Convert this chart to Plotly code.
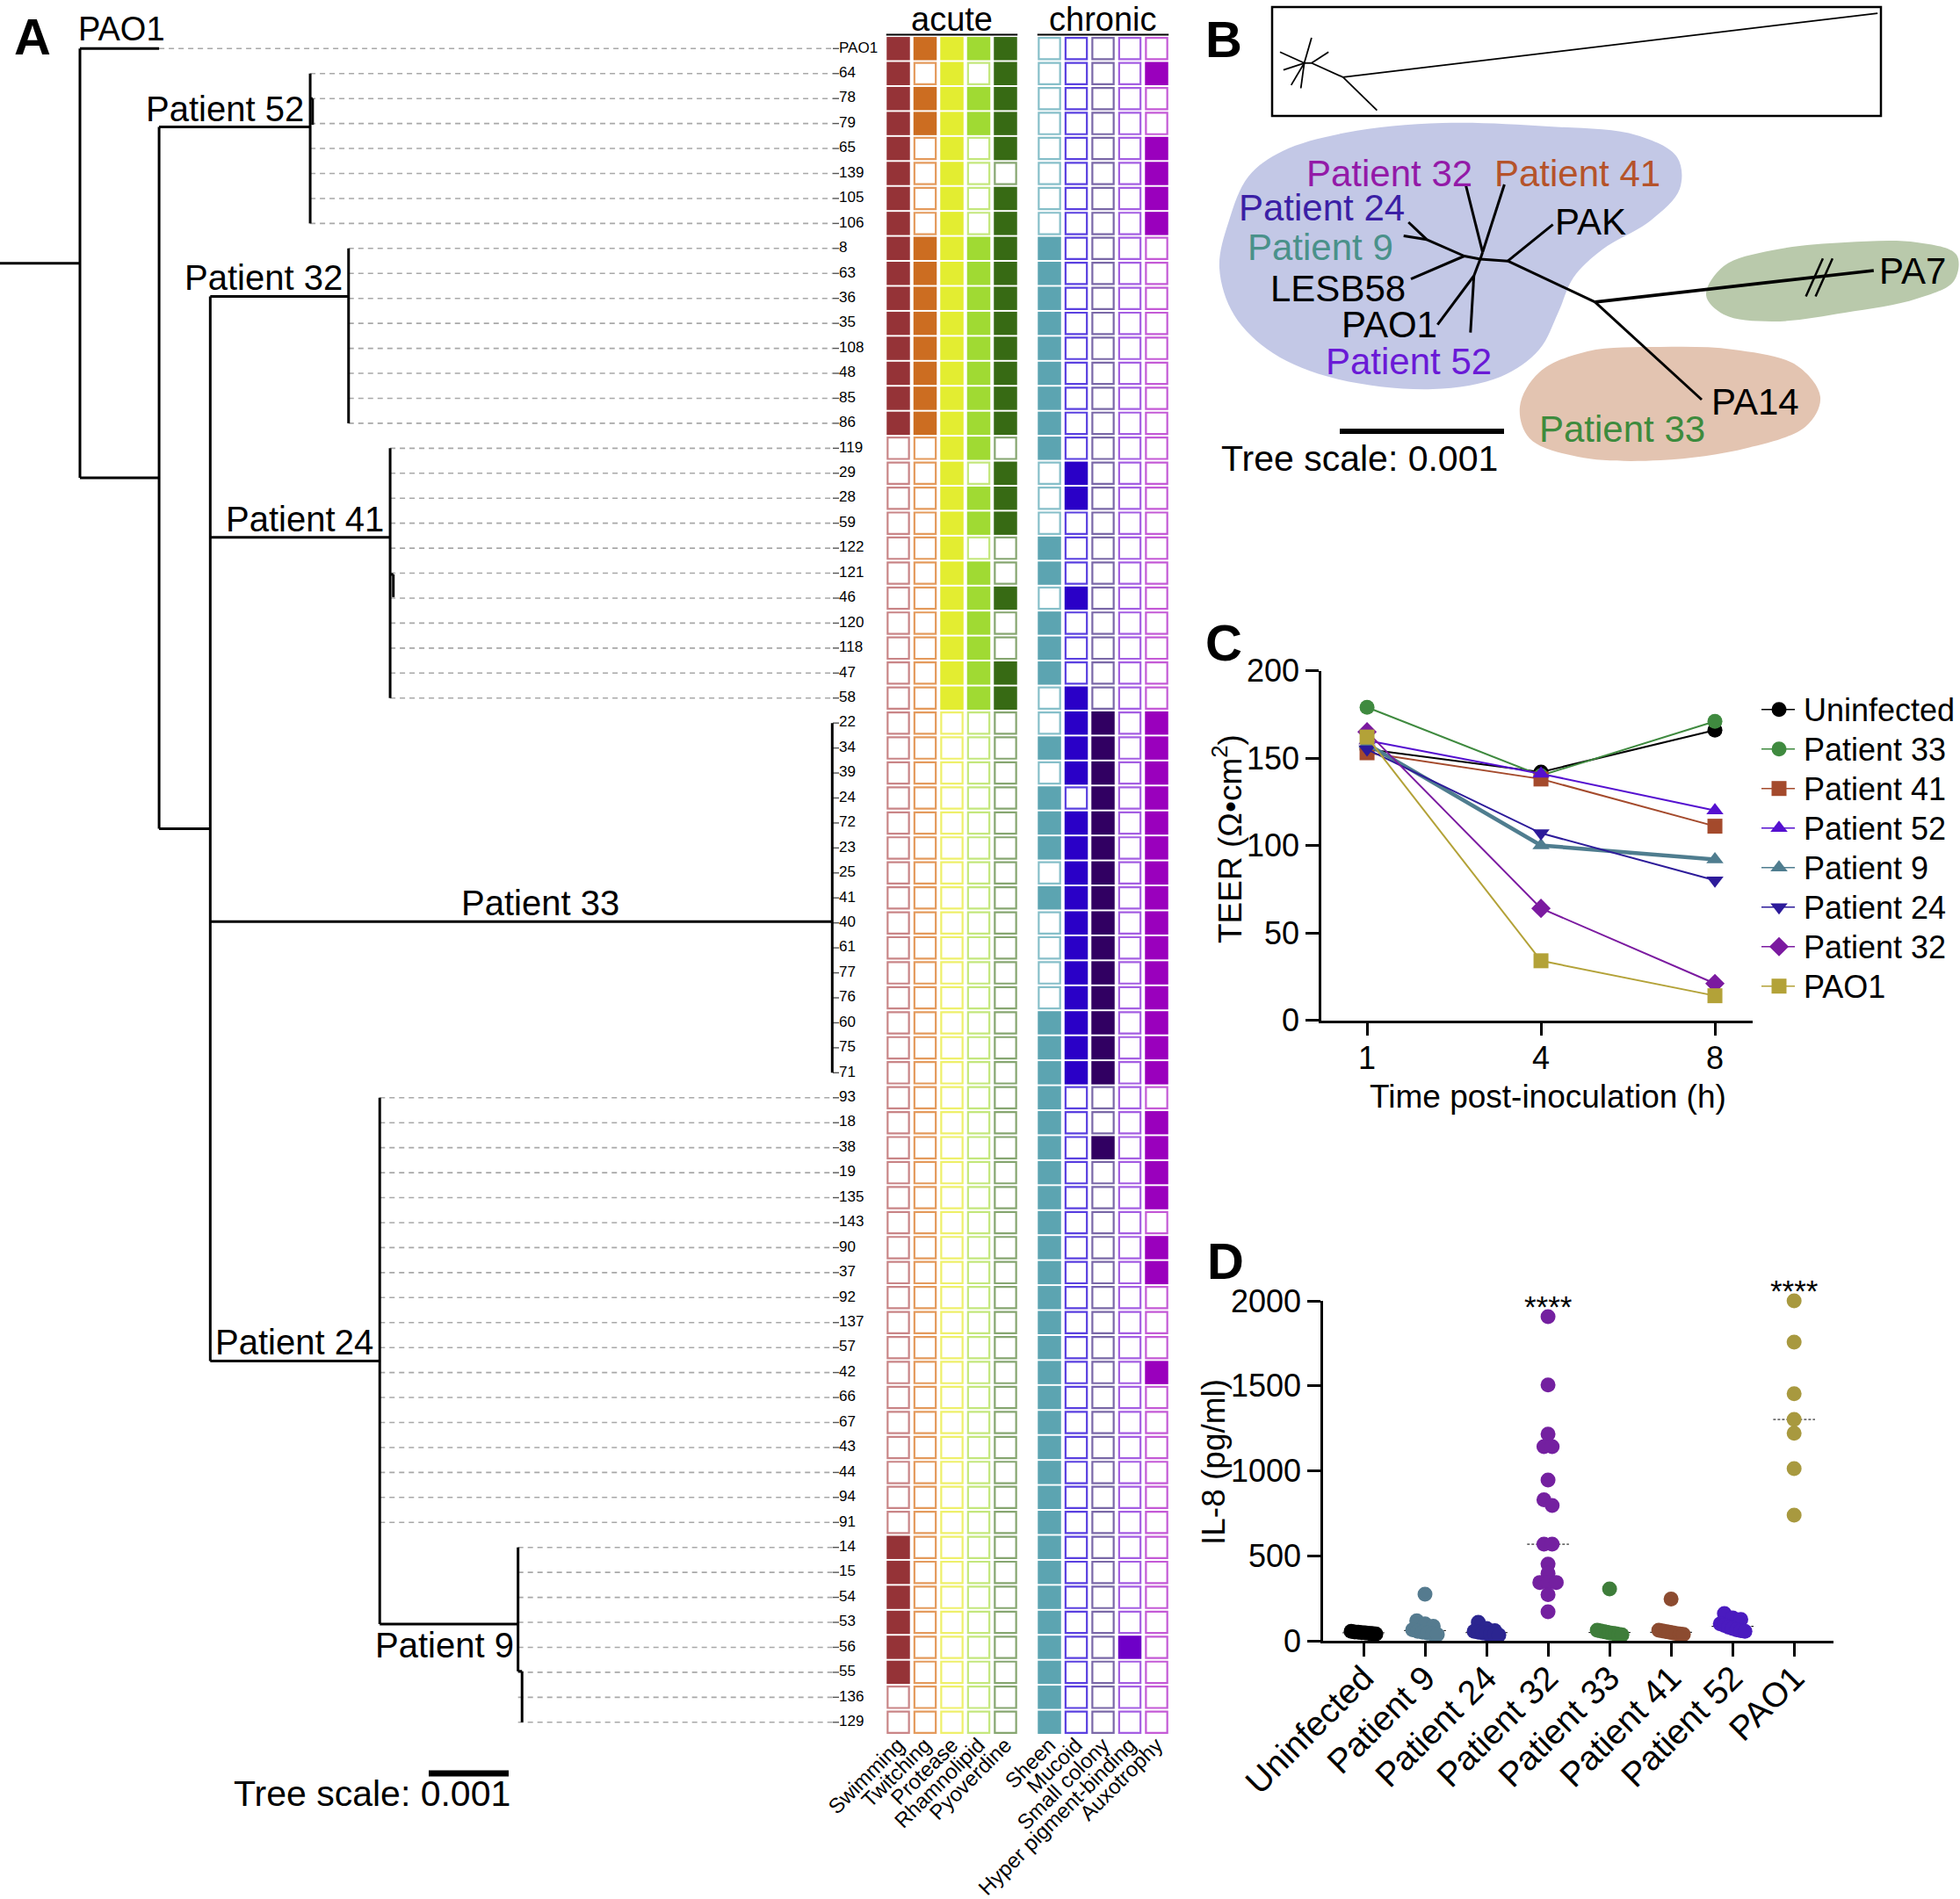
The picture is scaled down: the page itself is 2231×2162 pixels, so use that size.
import numpy as np
import plotly.graph_objects as go

W, H = 2231, 2162
FONT = "Liberation Sans, Arial, Helvetica, sans-serif"


def px_x(x):
    return x / W


def px_y(y):
    return 1 - y / H

# ======================= DATA =======================
# ---- Panel A: leaves (top to bottom) ----
leaf_names = ["PAO1", "64", "78", "79", "65", "139", "105", "106",
              "8", "63", "36", "35", "108", "48", "85", "86",
              "119", "29", "28", "59", "122", "121", "46", "120", "118", "47", "58",
              "22", "34", "39", "24", "72", "23", "25", "41", "40", "61", "77", "76", "60", "75", "71",
              "93", "18", "38", "19", "135", "143", "90", "37", "92", "137", "57", "42", "66", "67",
              "43", "44", "94", "91",
              "14", "15", "54", "53", "56", "55", "136", "129"]

acute_traits = ["Swimming", "Twitching", "Protease", "Rhamnolipid", "Pyoverdine"]
chronic_traits = ["Sheen", "Mucoid", "Small colony", "Hyper pigment-binding", "Auxotrophy"]

acute_profile = ["11111", "10101", "11111", "11111", "10101", "10100", "10101", "10101",
                 "11111", "11111", "11111", "11111", "11111", "11111", "11111", "11111",
                 "00110", "00101", "00111", "00111", "00100", "00110", "00111", "00110", "00110", "00111", "00111",
                 "00000", "00000", "00000", "00000", "00000", "00000", "00000", "00000", "00000", "00000",
                 "00000", "00000", "00000", "00000", "00000",
                 "00000", "00000", "00000", "00000", "00000", "00000", "00000", "00000", "00000", "00000",
                 "00000", "00000", "00000", "00000", "00000", "00000", "00000", "00000",
                 "10000", "10000", "10000", "10000", "10000", "10000", "00000", "00000"]

chronic_profile = ["00000", "00001", "00000", "00000", "00001", "00001", "00001", "00001",
                   "10000", "10000", "10000", "10000", "10000", "10000", "10000", "10000",
                   "10000", "01000", "01000", "00000", "10000", "10000", "01000", "10000", "10000", "10000", "01000",
                   "01101", "11101", "01101", "10101", "11101", "11101", "01101", "11101", "01101", "01101",
                   "01101", "01101", "11101", "11101", "11101",
                   "10000", "10001", "10101", "10001", "10001", "10000", "10001", "10001", "10000", "10000",
                   "10000", "10001", "10000", "10000", "10000", "10000", "10000", "10000",
                   "10000", "10000", "10000", "10000", "10010", "10000", "10000", "10000"]

acute_fill = ["#953337", "#cc6d21", "#e3ed31", "#a0da33", "#376a14"]
acute_edge = ["#c98587", "#e49a5c", "#eef06a", "#c4e77c", "#86a670"]
chronic_fill = ["#5ca4b1", "#2a00c7", "#310062", "#6e00c8", "#9a00bd"]
chronic_edge = ["#86bfc9", "#5a40e0", "#7a68a8", "#a45ee2", "#c45ad6"]

# clades of the rooted tree (rows are leaf indices)
clade_names = ["Patient 52", "Patient 32", "Patient 41", "Patient 33", "Patient 24", "Patient 9"]
clade_first = [1, 8, 16, 27, 42, 60]
clade_last = [7, 15, 26, 41, 59, 67]
clade_depth = [0.00388, 0.00436, 0.00488, 0.01041, 0.00475, 0.00648]
clade_row = [3.14, 9.92, 19.57, 34.95, None, 63.07]
root_depth = 0.00100
pao1_depth = 0.00199
a1_depth = 0.00199
a2_depth = 0.00263
minor_parent = [0, 2, 5]
minor_depth = [0.00391, 0.00492, 0.00653]
minor_top = [2.0, 21.05, 64.96]
minor_bottom = [3.05, 21.96, 67.0]
tree_scale = 0.001

# ---- Panel B: unrooted tree ----
b_nodes = ["H1", "Hc", "N24", "Nb", "Hlow", "H2", "H3", "P32", "P41", "P24", "P9",
           "LESB58", "PAO1", "P52", "PAK", "PA7", "PA14"]
b_node_x = [318.9, 321.6, 300.7, 258.2, 311.7, 350.3, 449.6, 302.3, 346.4, 237.2, 231.7,
            240.0, 270.3, 307.8, 401.6, 766.8, 571.0]
b_node_y = [295.0, 287.2, 291.5, 272.8, 314.0, 297.2, 343.9, 210.0, 210.0, 253.0, 268.5,
            317.7, 369.7, 378.7, 255.6, 308.0, 455.0]
b_edges = [("H1", "Hc"), ("Hc", "P32"), ("Hc", "P41"), ("H1", "N24"), ("N24", "LESB58"),
           ("N24", "Nb"), ("Nb", "P24"), ("Nb", "P9"), ("H1", "Hlow"), ("Hlow", "PAO1"),
           ("Hlow", "P52"), ("H1", "H2"), ("H2", "PAK"), ("H2", "H3"), ("H3", "PA14")]
b_long_edge = ("H3", "PA7")
b_labels = ["Patient 32", "Patient 41", "Patient 24", "Patient 9", "LESB58", "PAO1",
            "Patient 52", "PAK", "PA7", "PA14", "Patient 33"]
b_label_x = [215, 429, 138, 137, 157, 215, 237, 444, 811, 632, 480]
b_label_y = [194, 194, 233, 278, 325, 366, 408, 249, 305, 454, 485]
b_label_color = ["#931aa8", "#b5532a", "#3b1fa5", "#4a918a", "#000000", "#000000",
                 "#6a1ad6", "#000000", "#000000", "#000000", "#3d8b3d"]
blob_blue_x = [55, 33, 22, 39, 83, 154, 265, 342, 386, 408, 425, 458, 513, 546, 543, 497, 397, 276, 166, 94]
blob_blue_y = [201, 251, 305, 359, 402, 431, 443, 429, 398, 355, 316, 284, 251, 215, 179, 154, 144, 140, 151, 172]
blob_green_x = [576, 596, 651, 734, 816, 861, 858, 816, 734, 651, 596]
blob_green_y = [336, 303, 285, 276, 276, 290, 320, 340, 356, 366, 358]
blob_peach_x = [364, 386, 441, 524, 607, 679, 706, 690, 623, 524, 430, 375]
blob_peach_y = [463, 424, 400, 395, 398, 416, 452, 485, 510, 524, 520, 499]
mini_x0 = [118.6, 118.6, 118.6, 118.6, 118.6, 126.9, 118.6, 126.9, 162.7, 162.7]
mini_y0 = [71.8, 71.8, 71.8, 71.8, 71.8, 71.8, 71.8, 71.8, 87.9, 87.9]
mini_x1 = [126.9, 114.7, 91.0, 94.9, 103.7, 146.2, 126.9, 162.7, 771.2, 201.4]
mini_y1 = [43.1, 100.5, 59.2, 79.7, 96.9, 59.2, 71.8, 87.9, 15.1, 125.6]

# ---- Panel C: TEER ----
teer_time = ["1", "4", "8"]
teer_groups = ["Uninfected", "Patient 33", "Patient 41", "Patient 52", "Patient 9",
               "Patient 24", "Patient 32", "PAO1"]
teer_uninfected = [155, 142, 166]
teer_p33 = [179, 140, 171]
teer_p41 = [153, 138, 111]
teer_p52 = [160, 141, 120]
teer_p9 = [158, 100, 92]
teer_p24 = [155, 107, 80]
teer_p32 = [165, 64, 21]
teer_pao1 = [162, 34, 14]
teer_colors = ["#000000", "#3f8a3f", "#a44a2c", "#5510d0", "#4f7d8f", "#2d1b9a", "#7b1aa0", "#b3a238"]
teer_symbols = ["circle", "circle", "square", "triangle-up", "triangle-up", "triangle-down",
                "diamond", "square"]
teer_widths = [2, 2, 2, 2, 4.5, 2, 2, 2]

# ---- Panel D: IL-8 ----
il8_groups = ["Uninfected", "Patient 9", "Patient 24", "Patient 32", "Patient 33",
              "Patient 41", "Patient 52", "PAO1"]
il8_uninfected = [55, 52, 50, 48, 46, 44, 42, 40]
il8_p9 = [274, 118, 100, 85, 65, 55, 50, 45, 40, 36]
il8_p24 = [108, 72, 60, 55, 50, 46, 43, 40, 37, 34]
il8_p32 = [1907, 1505, 1216, 1142, 1142, 946, 829, 796, 568, 568, 451, 397, 343, 343, 343, 271, 170]
il8_p33 = [305, 62, 58, 54, 50, 47, 44, 41, 38, 35]
il8_p41 = [245, 62, 58, 54, 50, 46, 43, 40, 37]
il8_p52 = [160, 135, 125, 100, 90, 80, 72, 65, 60, 55]
il8_pao1 = [2000, 1757, 1454, 1302, 1221, 1013, 739]
il8_colors = ["#000000", "#557b8f", "#2b2590", "#7420a0", "#3e7d3a", "#8c4b30", "#4a1bbf", "#a8993f"]
il8_signif = ["", "", "", "****", "", "", "", "****"]

# ======================= FIGURE =======================
fig = go.Figure()
annotations = []
shapes = []

# ---------------- Panel A: tree ----------------
ROW0_PX, ROW_PX = 55.3, 28.44
UNIT_PX = 91 / tree_scale            # pixels per substitution/site
TREE_RIGHT_PX = 1000
node_row = list(clade_row)
node_row[4] = (clade_first[4] + node_row[5]) / 2
a2_row = (node_row[1] + node_row[4]) / 2
a1_row = (node_row[0] + a2_row) / 2
root_row = (0 + a1_row) / 2

sx, sy = [], []


def seg(x0, y0, x1, y1, X=sx, Y=sy):
    X.extend([x0, x1, None])
    Y.extend([y0, y1, None])


seg(0, root_row, root_depth, root_row)
seg(root_depth, 0, root_depth, a1_row)
seg(root_depth, 0, pao1_depth, 0)
seg(root_depth, a1_row, a1_depth, a1_row)
seg(a1_depth, node_row[0], a1_depth, a2_row)
seg(a1_depth, node_row[0], clade_depth[0], node_row[0])
seg(a1_depth, a2_row, a2_depth, a2_row)
seg(a2_depth, node_row[1], a2_depth, node_row[4])
for k in [1, 2, 3, 4]:
    seg(a2_depth, node_row[k], clade_depth[k], node_row[k])
seg(clade_depth[4], node_row[5], clade_depth[5], node_row[5])
for k in range(6):
    bottom = node_row[5] if k == 4 else clade_last[k]
    top = clade_first[k]
    if k == 5:
        bottom = minor_top[2]
    seg(clade_depth[k], top, clade_depth[k], bottom)
for p, d, t, b in zip(minor_parent, minor_depth, minor_top, minor_bottom):
    seg(clade_depth[p], t, d, t)
    seg(d, t, d, b)

leaf_tip = [pao1_depth] + [0] * (len(leaf_names) - 1)
for k in range(6):
    for r in range(clade_first[k], clade_last[k] + 1):
        leaf_tip[r] = clade_depth[k]

DASH_END = 948 / UNIT_PX
LABEL_X = 955 / UNIT_PX
dx, dy, tx, ty = [], [], [], []
for r, tip in enumerate(leaf_tip):
    if tip < DASH_END - 1e-5:
        seg(tip, r, DASH_END, r, dx, dy)
    seg(DASH_END, r, LABEL_X, r, tx, ty)

fig.add_trace(go.Scatter(x=dx, y=dy, mode="lines", xaxis="x", yaxis="y",
                         line=dict(color="#a8a8a8", width=1.6, dash="6px,5px"),
                         hoverinfo="skip", showlegend=False))
fig.add_trace(go.Scatter(x=tx, y=ty, mode="lines", xaxis="x", yaxis="y",
                         line=dict(color="#555555", width=1.4),
                         hoverinfo="skip", showlegend=False))
fig.add_trace(go.Scatter(x=sx, y=sy, mode="lines", xaxis="x", yaxis="y",
                         line=dict(color="black", width=3),
                         hoverinfo="skip", showlegend=False))
fig.add_trace(go.Scatter(x=[LABEL_X] * len(leaf_names), y=list(range(len(leaf_names))),
                         mode="text", text=leaf_names, textposition="middle right",
                         textfont=dict(size=17, color="black", family=FONT),
                         xaxis="x", yaxis="y", cliponaxis=False,
                         hoverinfo="skip", showlegend=False))

# tree scale bar (panel A)
SCALE_ROW = (2019 - ROW0_PX) / ROW_PX
bar_x0 = 488 / UNIT_PX
fig.add_trace(go.Scatter(x=[bar_x0, bar_x0 + tree_scale], y=[SCALE_ROW, SCALE_ROW], mode="lines",
                         xaxis="x", yaxis="y", line=dict(color="black", width=7),
                         hoverinfo="skip", showlegend=False))
annotations.append(dict(x=bar_x0 + tree_scale + 4 / UNIT_PX, y=(2067 - ROW0_PX) / ROW_PX,
                        xref="x", yref="y", text="Tree scale: 0.001", showarrow=False,
                        xanchor="right", yanchor="bottom",
                        font=dict(size=41, color="black", family=FONT)))

# clade labels
annotations.append(dict(x=root_depth - 4 / UNIT_PX, y=0, xref="x", yref="y", text="PAO1",
                        showarrow=False, xanchor="left", yanchor="bottom", yshift=-1,
                        font=dict(size=38, color="black", family=FONT)))
for k, name in enumerate(clade_names):
    if k == 3:
        x = a2_depth + 0.53 * (clade_depth[3] - a2_depth)
        annotations.append(dict(x=x, y=node_row[k], xref="x", yref="y", text=name,
                                showarrow=False, xanchor="center", yanchor="bottom", yshift=-3,
                                font=dict(size=40, color="black", family=FONT)))
    elif k == 5:
        annotations.append(dict(x=clade_depth[k] - 3 / UNIT_PX, y=node_row[k], xref="x", yref="y",
                                text=name, showarrow=False, xanchor="right", yanchor="top",
                                yshift=0, font=dict(size=40, color="black", family=FONT)))
    else:
        annotations.append(dict(x=clade_depth[k] - 5 / UNIT_PX, y=node_row[k], xref="x", yref="y",
                                text=name, showarrow=False, xanchor="right", yanchor="bottom",
                                yshift=-3, font=dict(size=40, color="black", family=FONT)))

# ---------------- Panel A: trait grid ----------------
GAP = 0.64
col_pos = list(range(5)) + [5 + GAP + j for j in range(5)]
all_traits = acute_traits + chronic_traits
all_fill = acute_fill + chronic_fill
all_edge = acute_edge + chronic_edge
for c in range(10):
    prof = acute_profile if c < 5 else chronic_profile
    bit = c if c < 5 else c - 5
    vals = [int(p[bit]) for p in prof]
    fill = [all_fill[c] if v else "white" for v in vals]
    edge = [all_fill[c] if v else all_edge[c] for v in vals]
    size = [26.5 if v else 24.3 for v in vals]
    lw = [0 if v else 2.2 for v in vals]
    fig.add_trace(go.Scatter(x=[col_pos[c]] * len(vals), y=list(range(len(vals))), mode="markers",
                             xaxis="x2", yaxis="y",
                             marker=dict(symbol="square", size=size, color=fill, opacity=1,
                                         line=dict(color=edge, width=lw)),
                             hoverinfo="skip", showlegend=False, cliponaxis=False))

HEAD_ROW = (45 - ROW0_PX) / ROW_PX
LINE_ROW = (39.6 - ROW0_PX) / ROW_PX
annotations.append(dict(x=2, y=HEAD_ROW, xref="x2", yref="y", text="acute", showarrow=False,
                        xanchor="center", yanchor="bottom", font=dict(size=38, color="black", family=FONT)))
annotations.append(dict(x=5 + GAP + 2, y=HEAD_ROW, xref="x2", yref="y", text="chronic", showarrow=False,
                        xanchor="center", yanchor="bottom", font=dict(size=38, color="black", family=FONT)))
for x0 in [0, 5 + GAP]:
    shapes.append(dict(type="line", xref="x2", yref="y", x0=x0 - 0.45, x1=x0 + 4.45,
                       y0=LINE_ROW, y1=LINE_ROW, line=dict(color="black", width=2)))

# ---------------- Panel B ----------------
bi = {n: i for i, n in enumerate(b_nodes)}
for bx, by, col in [(blob_blue_x, blob_blue_y, "#c3c8e6"), (blob_green_x, blob_green_y, "#b9c9ab"),
                    (blob_peach_x, blob_peach_y, "#e3c4b1")]:
    fig.add_trace(go.Scatter(x=bx + bx[:1], y=by + by[:1], mode="lines", fill="toself",
                             fillcolor=col, line=dict(width=0, shape="spline", color=col),
                             xaxis="x4", yaxis="y4", hoverinfo="skip", showlegend=False))
ex, ey = [], []
for a, b in b_edges:
    seg(b_node_x[bi[a]], b_node_y[bi[a]], b_node_x[bi[b]], b_node_y[bi[b]], ex, ey)
fig.add_trace(go.Scatter(x=ex, y=ey, mode="lines", xaxis="x4", yaxis="y4",
                         line=dict(color="black", width=3), hoverinfo="skip", showlegend=False))
a, b = b_long_edge
fig.add_trace(go.Scatter(x=[b_node_x[bi[a]], b_node_x[bi[b]]], y=[b_node_y[bi[a]], b_node_y[bi[b]]],
                         mode="lines", xaxis="x4", yaxis="y4",
                         line=dict(color="black", width=3.6), hoverinfo="skip", showlegend=False))
# break marks on the PA7 branch
brx, bry = [], []
for off in [0, 11]:
    seg(689.6 + off, 337.4, 708.9 + off, 294.3, brx, bry)
fig.add_trace(go.Scatter(x=brx, y=bry, mode="lines", xaxis="x4", yaxis="y4",
                         line=dict(color="black", width=2.5), hoverinfo="skip", showlegend=False))
# overview inset
mx, my = [], []
for x0, y0, x1, y1 in zip(mini_x0, mini_y0, mini_x1, mini_y1):
    seg(x0, y0, x1, y1, mx, my)
fig.add_trace(go.Scatter(x=mx, y=my, mode="lines", xaxis="x4", yaxis="y4",
                         line=dict(color="black", width=1.8), hoverinfo="skip", showlegend=False))
shapes.append(dict(type="rect", xref="x4", yref="y4", x0=82, x1=775, y0=8, y1=132,
                   line=dict(color="black", width=2.5)))
for t, x, y, c in zip(b_labels, b_label_x, b_label_y, b_label_color):
    annotations.append(dict(x=x, y=y + 3, xref="x4", yref="y4", text=t, showarrow=False,
                            xanchor="center", yanchor="middle", borderpad=0,
                            font=dict(size=42, color=c, family=FONT)))
fig.add_trace(go.Scatter(x=[159, 346], y=[491, 491], mode="lines", xaxis="x4", yaxis="y4",
                         line=dict(color="black", width=6), hoverinfo="skip", showlegend=False))
annotations.append(dict(x=181, y=522, xref="x4", yref="y4", text="Tree scale: 0.001", showarrow=False,
                        xanchor="center", yanchor="middle", font=dict(size=41, color="black", family=FONT)))

# ---------------- Panel C ----------------
teer_series = [teer_uninfected, teer_p33, teer_p41, teer_p52, teer_p9, teer_p24, teer_p32, teer_pao1]
for name, vals, col, sym, w in zip(teer_groups, teer_series, teer_colors, teer_symbols, teer_widths):
    fig.add_trace(go.Scatter(x=teer_time, y=vals, name=name, mode="lines+markers",
                             xaxis="x3", yaxis="y3", cliponaxis=False,
                             line=dict(color=col, width=w),
                             marker=dict(symbol=sym, size=17, color=col, line=dict(width=0)),
                             hoverinfo="skip", showlegend=False))
# legend of panel C (one entry per group, stacked in its own frame)
for i, (name, col, sym) in enumerate(zip(teer_groups, teer_colors, teer_symbols)):
    fig.add_trace(go.Scatter(x=[5, 43], y=[i, i], mode="lines", xaxis="x6", yaxis="y6",
                             line=dict(color=col, width=1.5), hoverinfo="skip", showlegend=False))
    fig.add_trace(go.Scatter(x=[25], y=[i], mode="markers", xaxis="x6", yaxis="y6",
                             marker=dict(symbol=sym, size=17, color=col, line=dict(width=0)),
                             hoverinfo="skip", showlegend=False, cliponaxis=False))
    annotations.append(dict(x=51, y=i, xref="x6", yref="y6", text=name, showarrow=False,
                            xanchor="left", yanchor="middle", yshift=-1,
                            font=dict(size=36, color="black", family=FONT)))

# ---------------- Panel D ----------------
D_TOP_PX, D_BOT_PX = 1481, 1868
D_YMAX = 2000
D_Y_PX = (D_BOT_PX - D_TOP_PX) / D_YMAX   # px per pg/ml
D_CAT_PX = 70.0
DIAM = 17.0


def swarm_offsets(vals):
    v = np.asarray(vals, float)
    order = np.argsort(-v, kind="stable")
    offs = np.zeros(len(v))
    bins, cur = [], [order[0]]
    for i in order[1:]:
        if (v[cur[0]] - v[i]) * D_Y_PX < 0.6 * DIAM:
            cur.append(i)
        else:
            bins.append(cur)
            cur = [i]
    bins.append(cur)
    for b in bins:
        n = len(b)
        if n == 1:
            continue
        sp = min(0.55 * DIAM, 28.0 / (n - 1))
        for j, i in enumerate(b):
            offs[i] = (j - (n - 1) / 2) * sp
    return offs / D_CAT_PX


il8_series = [il8_uninfected, il8_p9, il8_p24, il8_p32, il8_p33, il8_p41, il8_p52, il8_pao1]
for k, (name, vals, col) in enumerate(zip(il8_groups, il8_series, il8_colors)):
    med = float(np.median(vals))
    shapes.append(dict(type="line", xref="x5", yref="y5", x0=k - 0.34, x1=k + 0.34, y0=med, y1=med,
                       layer="below", line=dict(color="black", width=1, dash="3px,2px")))
    xs = k + swarm_offsets(vals)
    fig.add_trace(go.Scatter(x=xs, y=vals, mode="markers", xaxis="x5", yaxis="y5",
                             marker=dict(size=DIAM, color=col, opacity=1, line=dict(width=0)),
                             cliponaxis=False, hoverinfo="skip", showlegend=False))
    if il8_signif[k]:
        ypix = D_BOT_PX - (max(vals) + 60) * D_Y_PX
        annotations.append(dict(x=k, y=px_y(ypix), xref="x5", yref="paper", text=il8_signif[k],
                                showarrow=False, xanchor="center", yanchor="middle",
                                font=dict(size=35, color="black", family=FONT)))

# ---------------- Titles & panel letters ----------------
annotations += [
    dict(x=px_x(1398), y=px_y(955), xref="paper", yref="paper", text="TEER (Ω•cm<sup>2</sup>)",
         textangle=-90, showarrow=False, xanchor="center", yanchor="middle",
         font=dict(size=37, color="black", family=FONT)),
    dict(x=px_x(1762), y=px_y(1248), xref="paper", yref="paper", text="Time post-inoculation (h)",
         showarrow=False, xanchor="center", yanchor="middle",
         font=dict(size=37, color="black", family=FONT)),
    dict(x=px_x(1381), y=px_y(1665), xref="paper", yref="paper", text="IL-8 (pg/ml)",
         textangle=-90, showarrow=False, xanchor="center", yanchor="middle",
         font=dict(size=37, color="black", family=FONT)),
]
for L, x, y in [("A", 37, 41), ("B", 1393, 44), ("C", 1393, 731), ("D", 1395, 1435)]:
    annotations.append(dict(x=px_x(x), y=px_y(y), xref="paper", yref="paper", text="<b>%s</b>" % L,
                            showarrow=False, xanchor="center", yanchor="middle",
                            font=dict(size=58, color="black", family=FONT)))

axis_style = dict(showline=True, linecolor="black", linewidth=2.5, ticks="outside", ticklen=15,
                  tickwidth=2.5, tickcolor="black", showgrid=False, zeroline=False, automargin=False,
                  tickfont=dict(size=36, color="black", family=FONT))

LEG_TOP, LEG_BOT = 785, 1135
LEG_Y0, LEG_DY = 807.7, 45.0

fig.update_layout(
    width=W, height=H, margin=dict(l=0, r=0, t=0, b=0, pad=0, autoexpand=False),
    paper_bgcolor="white", plot_bgcolor="rgba(0,0,0,0)",
    font=dict(family=FONT, color="black"),
    annotations=annotations, shapes=shapes, showlegend=False,
    # panel A tree
    xaxis=dict(domain=[0, px_x(TREE_RIGHT_PX)], range=[0, TREE_RIGHT_PX / UNIT_PX], visible=False,
               anchor="y", automargin=False),
    yaxis=dict(domain=[0, 1], range=[(H - ROW0_PX) / ROW_PX, -ROW0_PX / ROW_PX], visible=False,
               anchor="x", automargin=False),
    # panel A grid
    xaxis2=dict(domain=[px_x(1000), px_x(1340)],
                range=[(1000 - 1022.5) / 30.5, (1340 - 1022.5) / 30.5],
                anchor="free", position=px_y(1977), showline=False, showgrid=False, zeroline=False,
                ticks="", tickvals=col_pos, ticktext=all_traits, tickangle=-45, automargin=False,
                ticklabelstandoff=-10,
                tickfont=dict(size=24, color="black", family=FONT)),
    # panel B
    xaxis4=dict(domain=[px_x(1366), 1], range=[0, 865], visible=False, anchor="y4", automargin=False),
    yaxis4=dict(domain=[px_y(560), 1], range=[560, 0], visible=False, anchor="x4", automargin=False),
    # panel C
    xaxis3=dict(domain=[px_x(1504), px_x(1995)], anchor="y3", type="category",
                range=[-0.263, 2.217], ticklabelstandoff=-5, **axis_style),
    yaxis3=dict(domain=[px_y(1161.5), px_y(763.5)], anchor="x3", range=[0, 200],
                tickvals=[0, 50, 100, 150, 200], **axis_style),
    # panel C legend frame
    xaxis6=dict(domain=[px_x(2000), 1], range=[0, W - 2000], visible=False, anchor="y6", automargin=False),
    yaxis6=dict(domain=[px_y(LEG_BOT), px_y(LEG_TOP)],
                range=[(LEG_BOT - LEG_Y0) / LEG_DY, (LEG_TOP - LEG_Y0) / LEG_DY],
                visible=False, anchor="x6", automargin=False),
    # panel D
    xaxis5=dict(domain=[px_x(1506), px_x(2087)], anchor="y5", range=[-0.657, 7.64],
                tickvals=list(range(len(il8_groups))), ticktext=il8_groups, tickangle=-45,
                ticklabelstandoff=-14,
                **{k: v for k, v in axis_style.items() if k != "tickfont"},
                tickfont=dict(size=39, color="black", family=FONT)),
    yaxis5=dict(domain=[px_y(D_BOT_PX), px_y(D_TOP_PX)], anchor="x5", range=[0, D_YMAX],
                tickvals=[0, 500, 1000, 1500, 2000], **axis_style),
)

fig.write_html("out.html", config={"displayModeBar": False},
               post_script="document.body.style.margin='0px';document.body.style.overflow='hidden';")
